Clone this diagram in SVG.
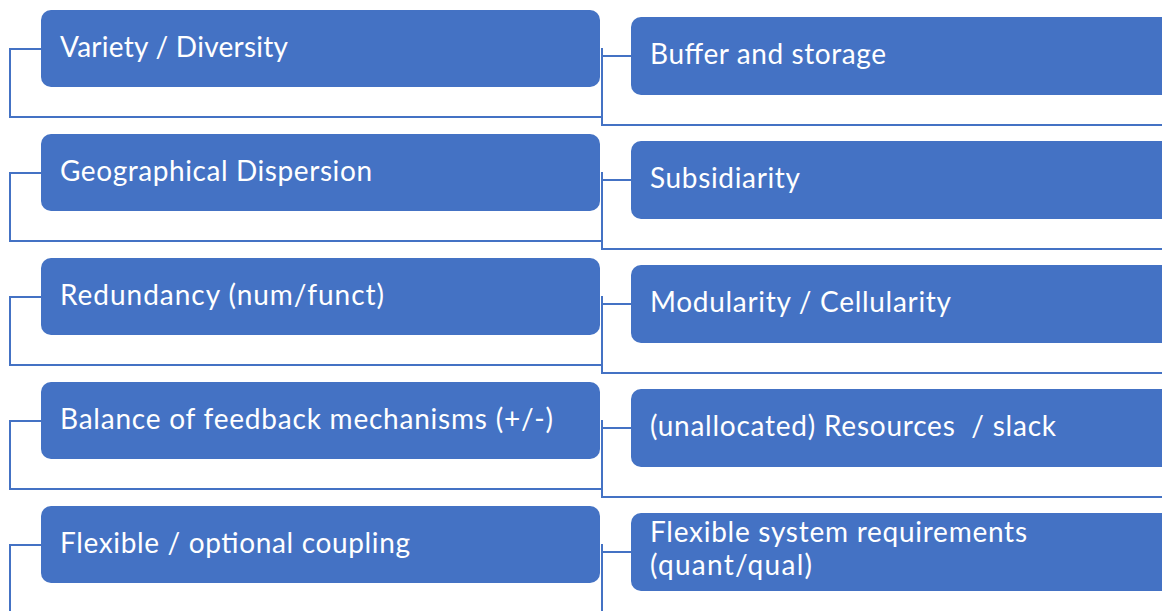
<svg xmlns="http://www.w3.org/2000/svg" width="1162" height="611" viewBox="0 0 1162 611">
<style>
.box{fill:#4472C4;}
.ln{fill:none;stroke:#4472C4;stroke-width:2;}
.t{font-family:Lato,"Open Sans","Liberation Sans",sans-serif;font-size:28px;fill:#FFFFFF;white-space:pre;}
</style>
<rect width="1162" height="611" fill="#FFFFFF"/>
<g id="connectors">
<path class="ln" d="M41 49 H10 V117 H602"/>
<path class="ln" d="M602 48 V125 H1162 M602 56 H631"/>
<path class="ln" d="M41 173 H10 V241 H602"/>
<path class="ln" d="M602 172 V249 H1162 M602 180 H631"/>
<path class="ln" d="M41 297 H10 V365 H602"/>
<path class="ln" d="M602 296 V373 H1162 M602 304 H631"/>
<path class="ln" d="M41 421 H10 V489 H602"/>
<path class="ln" d="M602 420 V497 H1162 M602 428 H631"/>
<path class="ln" d="M41 545 H10 V615"/>
<path class="ln" d="M602 544 V615 M602 552 H631"/>
</g>
<g id="l0"><rect class="box" x="41" y="10" width="559" height="77" rx="10"/><text class="t" x="60" y="57" textLength="228">Variety / Diversity</text></g>
<g id="l1"><rect class="box" x="41" y="134" width="559" height="77" rx="10"/><text class="t" x="60" y="181" textLength="312">Geographical Dispersion</text></g>
<g id="l2"><rect class="box" x="41" y="258" width="559" height="77" rx="10"/><text class="t" x="60" y="305" textLength="324">Redundancy (num/funct)</text></g>
<g id="l3"><rect class="box" x="41" y="382" width="559" height="77" rx="10"/><text class="t" x="60" y="429" textLength="493">Balance of feedback mechanisms (+/-)</text></g>
<g id="l4"><rect class="box" x="41" y="506" width="559" height="77" rx="10"/><text class="t" x="60" y="553" textLength="350">Flexible / optional coupling</text></g>
<g id="r0"><rect class="box" x="631" y="17" width="540" height="78" rx="10"/><text class="t" x="650" y="64" textLength="236">Buffer and storage</text></g>
<g id="r1"><rect class="box" x="631" y="141" width="540" height="78" rx="10"/><text class="t" x="650" y="188" textLength="150">Subsidiarity</text></g>
<g id="r2"><rect class="box" x="631" y="265" width="540" height="78" rx="10"/><text class="t" x="650" y="312" textLength="301">Modularity / Cellularity</text></g>
<g id="r3"><rect class="box" x="631" y="389" width="540" height="78" rx="10"/><text class="t" x="650" y="436" textLength="406">(unallocated) Resources  / slack</text></g>
<g id="r4"><rect class="box" x="631" y="513" width="540" height="78" rx="10"/><text class="t" x="650" y="542" textLength="377">Flexible system requirements</text><text class="t" x="650" y="575" textLength="162">(quant/qual)</text></g>
</svg>
